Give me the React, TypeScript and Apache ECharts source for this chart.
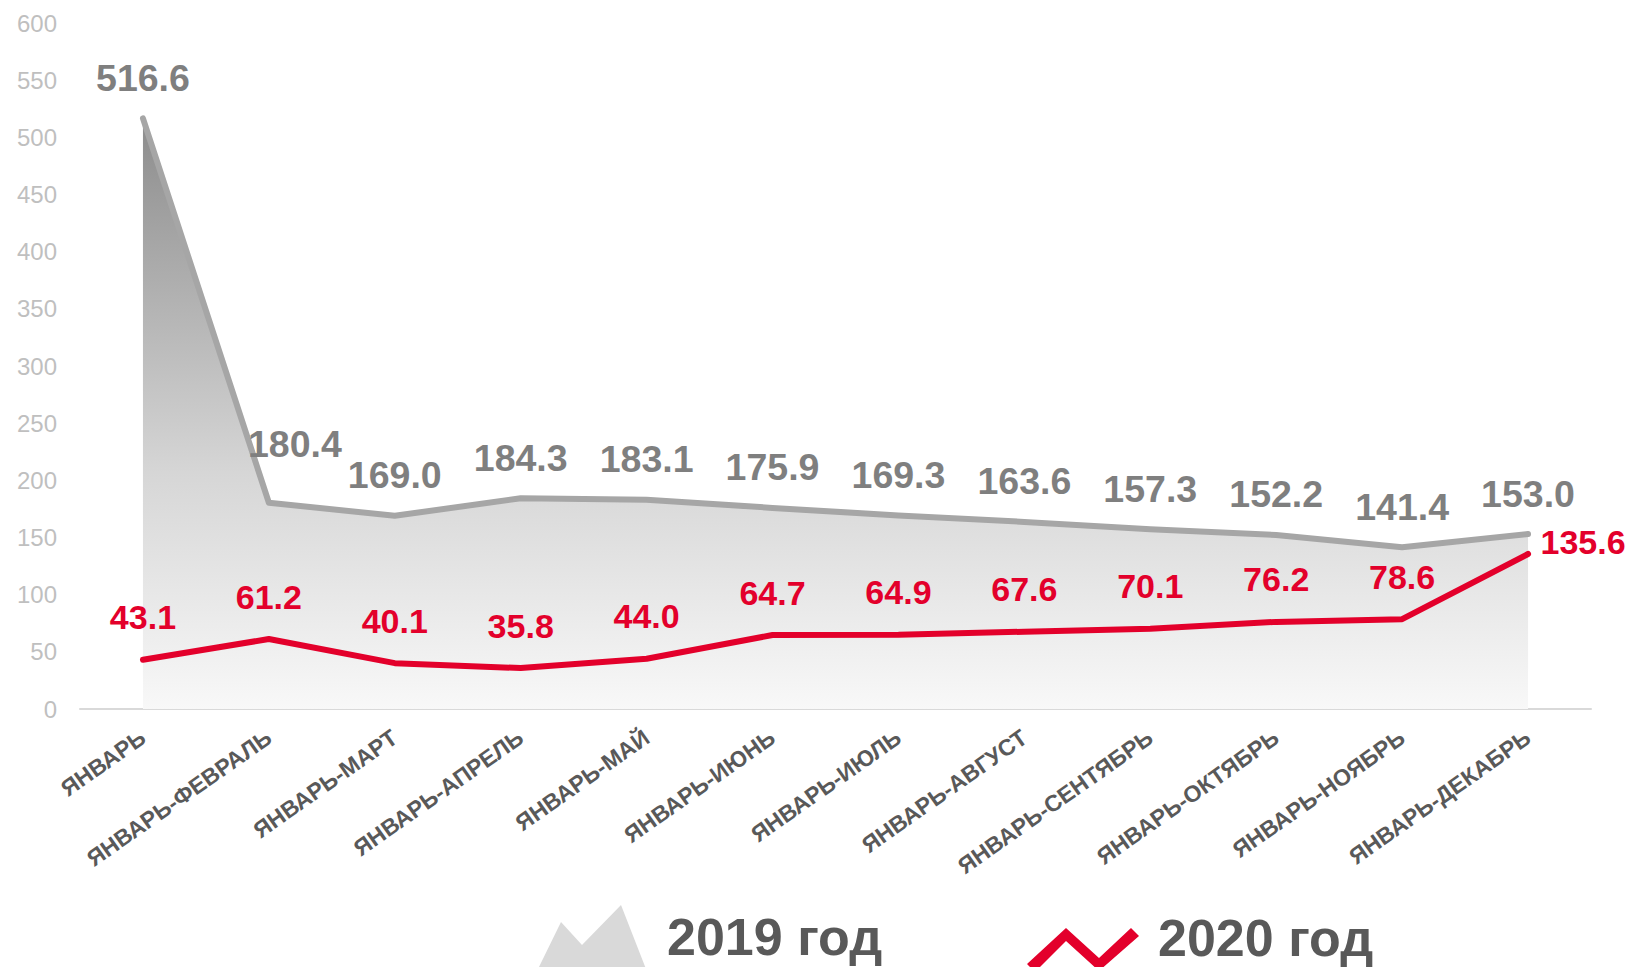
import React, { useEffect, useRef } from "react";
import * as echarts from "echarts";

const categories = [
  "ЯНВАРЬ",
  "ЯНВАРЬ-ФЕВРАЛЬ",
  "ЯНВАРЬ-МАРТ",
  "ЯНВАРЬ-АПРЕЛЬ",
  "ЯНВАРЬ-МАЙ",
  "ЯНВАРЬ-ИЮНЬ",
  "ЯНВАРЬ-ИЮЛЬ",
  "ЯНВАРЬ-АВГУСТ",
  "ЯНВАРЬ-СЕНТЯБРЬ",
  "ЯНВАРЬ-ОКТЯБРЬ",
  "ЯНВАРЬ-НОЯБРЬ",
  "ЯНВАРЬ-ДЕКАБРЬ",
];
const values2019 = [516.6, 180.4, 169.0, 184.3, 183.1, 175.9, 169.3, 163.6, 157.3, 152.2, 141.4, 153.0];
const values2020 = [43.1, 61.2, 40.1, 35.8, 44.0, 64.7, 64.9, 67.6, 70.1, 76.2, 78.6, 135.6];
const seriesNames = ["2019 год", "2020 год"];
const yMin = 0;
const yMax = 600;
const yInterval = 50;

const GRAY_LINE = "#a6a6a6";
const GRAY_LABEL = "#7f7f7f";
const RED = "#e3002b";
const DARK_TEXT = "#595959";
const FONT = "'Liberation Sans', Arial, sans-serif";

const mountainIcon = "path://M0,64 L23,17 L44,40 L83,0 L108,64 Z";
// zigzag with an empty (zero-area) sub-path above it, so that the icon sits lower than the text
const zigzagIcon =
  "path://M56,-25 L56.5,-25 L56,-25 Z M0,36 L39,0 L72,30 L104,0 L112,8 L72,43 L39,13 L8,44 Z";

export default function App() {
  const ref = useRef<HTMLDivElement>(null);

  useEffect(() => {
    document.body.style.margin = "0";
    if (!ref.current) return;
    const chart = echarts.init(ref.current, null, { renderer: "svg" });

    const data2019 = values2019.map((v, i) =>
      i === 1 ? { value: v, label: { offset: [26, -18] } } : { value: v }
    );
    const data2020 = values2020.map((v, i) =>
      i === values2020.length - 1
        ? { value: v, label: { position: "right", distance: 12, offset: [0, -12] } }
        : { value: v }
    );

    const legendText = {
      fontSize: 52,
      fontWeight: "bold",
      fontFamily: FONT,
      color: DARK_TEXT,
    };

    chart.setOption({
      animation: false,
      backgroundColor: "#ffffff",
      grid: { left: 80, right: 41, top: 23, bottom: 258, containLabel: false },
      legend: [
        {
          data: [{ name: seriesNames[0], icon: mountainIcon, itemStyle: { color: "#d9d9d9", borderWidth: 0 } }],
          left: 533,
          top: 900,
          itemWidth: 108,
          itemHeight: 64,
          selectedMode: false,
          itemStyle: { borderWidth: 0 },
          textStyle: { ...legendText, padding: [0, 0, 0, 16] },
        },
        {
          data: [{ name: seriesNames[1], icon: zigzagIcon, itemStyle: { color: RED, borderWidth: 0 } }],
          left: 1022,
          top: 898,
          itemWidth: 112,
          itemHeight: 69,
          selectedMode: false,
          itemStyle: { borderWidth: 0 },
          textStyle: { ...legendText, padding: [0, 0, 0, 14] },
        },
      ],
      xAxis: {
        type: "category",
        data: categories,
        boundaryGap: true,
        axisLine: { show: true, lineStyle: { color: "#d9d9d9", width: 2 } },
        axisTick: { show: false },
        axisLabel: {
          interval: 0,
          rotate: 35,
          margin: 26,
          fontSize: 23,
          fontWeight: "bold",
          fontFamily: FONT,
          color: DARK_TEXT,
        },
        splitLine: { show: false },
      },
      yAxis: {
        type: "value",
        min: yMin,
        max: yMax,
        interval: yInterval,
        axisLine: { show: false },
        axisTick: { show: false },
        splitLine: { show: false },
        axisLabel: {
          margin: 23,
          fontSize: 24,
          fontFamily: FONT,
          color: "#bfbfbf",
        },
      },
      series: [
        {
          name: seriesNames[0],
          type: "line",
          data: data2019,
          symbol: "circle",
          symbolSize: 1,
          showSymbol: true,
          smooth: false,
          z: 2,
          lineStyle: { color: GRAY_LINE, width: 6, cap: "round", join: "round" },
          itemStyle: { color: GRAY_LINE },
          areaStyle: {
            color: new echarts.graphic.LinearGradient(0, 0, 0, 1, [
              { offset: 0, color: "#8c8c8c" },
              { offset: 0.6, color: "#d6d6d6" },
              { offset: 1, color: "#f8f8f8" },
            ]),
            opacity: 1,
          },
          label: {
            show: true,
            position: "top",
            distance: 21,
            fontSize: 37.5,
            fontWeight: "bold",
            fontFamily: FONT,
            color: GRAY_LABEL,
            formatter: (p: any) => Number(p.value).toFixed(1),
          },
        },
        {
          name: seriesNames[1],
          type: "line",
          data: data2020,
          symbol: "circle",
          symbolSize: 1,
          showSymbol: true,
          smooth: false,
          z: 3,
          lineStyle: { color: RED, width: 6, cap: "round", join: "round" },
          itemStyle: { color: RED },
          label: {
            show: true,
            position: "top",
            distance: 25,
            fontSize: 34,
            fontWeight: "bold",
            fontFamily: FONT,
            color: RED,
            formatter: (p: any) => Number(p.value).toFixed(1),
          },
        },
      ],
    });

    return () => {
      chart.dispose();
    };
  }, []);

  return <div ref={ref} style={{ width: 1632, height: 967 }} />;
}
